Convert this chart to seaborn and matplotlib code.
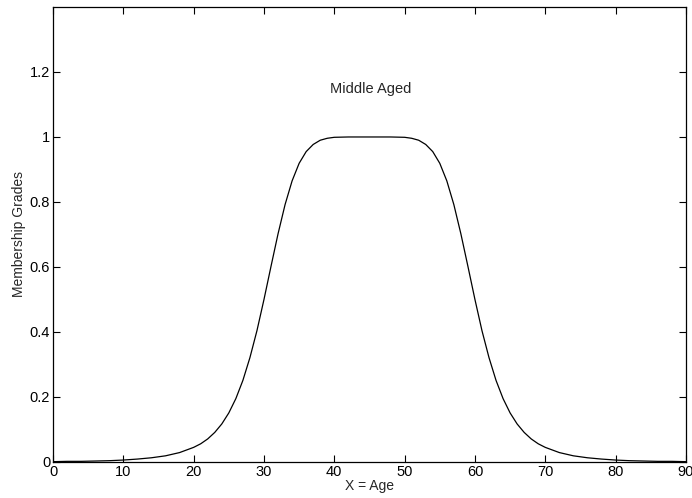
import numpy as np
import pandas as pd
import seaborn as sns
import matplotlib.pyplot as plt

# values ("middle aged" membership)
ages = [0, 2, 4, 6, 8, 10, 12, 14, 16, 18,
        20, 21, 22, 23, 24, 25, 26, 27, 28, 29,
        30, 31, 32, 33, 34, 35, 36, 37, 38, 39,
        40, 42, 44, 46, 48, 50,
        51, 52, 53, 54, 55, 56, 57, 58, 59, 60,
        61, 62, 63, 64, 65, 66, 67, 68, 69, 70,
        72, 74, 76, 78, 80, 82, 84, 86, 88, 90]
grades = [0.001, 0.002, 0.002, 0.003, 0.004, 0.006, 0.009, 0.013, 0.019, 0.029,
          0.045, 0.056, 0.071, 0.091, 0.117, 0.151, 0.195, 0.251, 0.321, 0.404,
          0.500, 0.602, 0.702, 0.792, 0.865, 0.919, 0.955, 0.977, 0.990, 0.996,
          0.999, 1.0, 1.0, 1.0, 1.0, 0.999,
          0.996, 0.990, 0.977, 0.955, 0.919, 0.865, 0.792, 0.702, 0.602, 0.500,
          0.404, 0.321, 0.251, 0.195, 0.151, 0.117, 0.091, 0.071, 0.056, 0.045,
          0.029, 0.019, 0.013, 0.009, 0.006, 0.004, 0.003, 0.002, 0.002, 0.001]
x_ticks = [0, 10, 20, 30, 40, 50, 60, 70, 80, 90]
y_ticks = [0, 0.2, 0.4, 0.6, 0.8, 1.0, 1.2]
y_labels = ['0', '0.2', '0.4', '0.6', '0.8', '1', '1.2']

sns.set_style('ticks')
plt.rcParams['font.family'] = ['Liberation Sans', 'DejaVu Sans']
plt.rcParams['xtick.direction'] = 'in'
plt.rcParams['ytick.direction'] = 'in'
plt.rcParams['xtick.top'] = True
plt.rcParams['ytick.right'] = True

df = pd.DataFrame({'age': ages, 'grade': grades})

fig = plt.figure(figsize=(6.92, 4.98), dpi=100)
ax = fig.add_axes([0.0766, 0.0723, 0.9146, 0.9137])
sns.lineplot(data=df, x='age', y='grade', color='black', linewidth=0.9, ax=ax)

ax.set_xlim(0, 90)
ax.set_ylim(0, 1.4)
ax.set_xticks(x_ticks)
ax.set_xticklabels([str(t) for t in x_ticks])
ax.set_yticks(y_ticks)
ax.set_yticklabels(y_labels)
ax.tick_params(labelsize=10.5, length=5, width=0.8, pad=2, colors='black')
for s in ax.spines.values():
    s.set_linewidth(0.9)
    s.set_color('black')

ax.set_xlabel('X = Age', fontsize=10, labelpad=0)
ax.set_ylabel('Membership Grades', fontsize=10, labelpad=3)
ax.text(45.2, 1.148, 'Middle Aged', ha='center', va='center', fontsize=10.5)

fig.savefig('out.png', dpi=100)
